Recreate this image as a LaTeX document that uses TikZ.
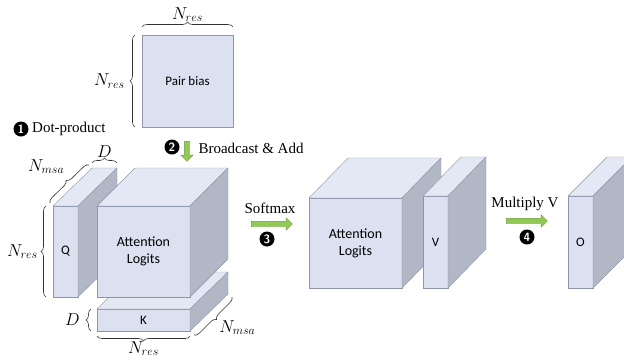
\documentclass[tikz,border=0pt]{standalone}
\usepackage{fontspec}
\setmainfont{Liberation Serif}
\newfontfamily\boxfont{Carlito}
\usepackage{tikz}
\usetikzlibrary{calc,shapes.arrows,decorations.pathreplacing,positioning}
\definecolor{facefront}{HTML}{DCE1F1}
\definecolor{facetop}{HTML}{E4E8F4}
\definecolor{faceside}{HTML}{B2B7C5}
\definecolor{faceedge}{HTML}{8C95AA}
\definecolor{arrowgreen}{HTML}{92C854}
\definecolor{arrowedge}{HTML}{6E9F3C}

\tikzset{
  facebox/.style={draw=faceedge, fill=facefront, outer sep=0pt, inner sep=0pt, align=center, font=\boxfont\fontsize{14}{17}\selectfont},
  topface/.style={draw=faceedge, fill=facetop, line join=round},
  sideface/.style={draw=faceedge, fill=faceside, line join=round},
  dimbrace/.style={decorate, decoration={brace, amplitude=5pt}, draw=black!80, line width=0.6pt},
  dimlabel/.style={font=\fontsize{17}{20}\selectfont, inner sep=2pt},
  stepnum/.style={circle, fill=black, text=white, inner sep=0pt, minimum size=15pt, font=\sffamily\bfseries\fontsize{12}{12}\selectfont},
  flowarrow/.style={single arrow, draw=arrowedge, fill=arrowgreen, inner sep=2.5pt, single arrow head extend=3.5pt, minimum height=#1},
  steptext/.style={font=\fontsize{15}{18}\selectfont}
}

% top and right faces of a box whose front is node #1
\newcommand{\boxdepth}[3]{%
  \draw[topface] (#1.north west) -- ++(#2,-#3) -- ($(#1.north east)+(#2,-#3)$) -- (#1.north east) -- cycle;
  \draw[sideface] (#1.north east) -- ++(#2,-#3) -- ($(#1.south east)+(#2,-#3)$) -- (#1.south east) -- cycle;
}

\begin{document}
\begin{tikzpicture}[x=1pt,y=-1pt]
\clip (0,0) rectangle (624,360);

% pair bias
\node[facebox, minimum width=91pt, minimum height=92pt, font=\boxfont\fontsize{13}{15}\selectfont] (pb) at (187.5,81) {Pair bias};
\draw[dimbrace] ($(pb.north west)+(0,-8)$) -- ($(pb.north east)+(0,-8)$) node[midway, above=3pt, dimlabel] (pbw) {$N_{res}$};
\draw[dimbrace] ($(pb.south west)+(-7,0)$) -- ($(pb.north west)+(-7,0)$) node[midway, left=8pt, dimlabel] (pbh) {$N_{res}$};

% step 1 and 2
\node[stepnum] (s1) at (21,129) {1};
\node[steptext, right=0pt of s1] (dot) {Dot-product};
\node[stepnum] (s2) at (172,147) {2};
\node[flowarrow=20pt, shape border rotate=270] (a2) at (187,150) {};
\node[steptext, anchor=west] (bc) at (195,148) {Broadcast \& Add};

% K, Q and logits
\node[facebox, minimum width=93pt, minimum height=22pt, font=\boxfont\fontsize{13}{15}\selectfont] (k) at (143.5,320) {K};
\boxdepth{k}{38}{37}
\node[facebox, minimum width=25pt, minimum height=91pt, font=\boxfont\fontsize{13}{15}\selectfont] (q) at (65.5,251.5) {Q};
\boxdepth{q}{39}{38}
\node[facebox, minimum width=93pt, minimum height=91pt] (lg) at (143.5,251.5) {Attention\\Logits};
\boxdepth{lg}{38}{38}

% sizes of Q
\draw[dimbrace] ($(q.north west)+(39,-43)$) -- ($(q.north east)+(39,-43)$) node[midway, above=3pt, dimlabel] (qd) {$D$};
\draw[dimbrace] ($(q.north west)+(-3,-3)$) -- ($(q.north west)+(36,-41)$) node[midway, above left=8pt and 3pt, dimlabel] (qm) {$N_{msa}$};
\draw[dimbrace] ($(q.south west)+(-7,0)$) -- ($(q.north west)+(-7,0)$) node[midway, left=6pt, dimlabel] (qr) {$N_{res}$};

% sizes of K
\draw[dimbrace] ($(k.south west)+(-6,0)$) -- ($(k.north west)+(-6,0)$) node[midway, left=9pt, dimlabel] (kd) {$D$};
\draw[dimbrace] ($(k.south east)+(0,5)$) -- ($(k.south west)+(0,5)$) node[midway, below=3pt, dimlabel] (kr) {$N_{res}$};
\draw[dimbrace] ($(k.south east)+(42,-34)$) -- ($(k.south east)+(4,4)$) node[midway, below right=2pt and 4pt, dimlabel] (km) {$N_{msa}$};

% step 3
\node[steptext] (sm) at (270,208) {Softmax};
\node[flowarrow=41pt] (a3) at (270.5,224) {};
\node[stepnum] (s3) at (267,239) {3};

% softmaxed logits and V
\node[facebox, minimum width=93pt, minimum height=90pt] (lg2) at (355.5,243) {Attention\\Logits};
\boxdepth{lg2}{39}{40}
\node[facebox, minimum width=25pt, minimum height=92pt, font=\boxfont\fontsize{13}{15}\selectfont] (v) at (435.5,242) {V};
\boxdepth{v}{38}{39}

% step 4
\node[steptext] (mv) at (525,204) {Multiply V};
\node[flowarrow=41pt] (a4) at (525.5,221) {};
\node[stepnum] (s4) at (527,237) {4};

% output
\node[facebox, minimum width=25pt, minimum height=92pt, font=\boxfont\fontsize{13}{15}\selectfont] (o) at (580.5,242) {O};
\boxdepth{o}{39}{39}
\end{tikzpicture}
\end{document}
